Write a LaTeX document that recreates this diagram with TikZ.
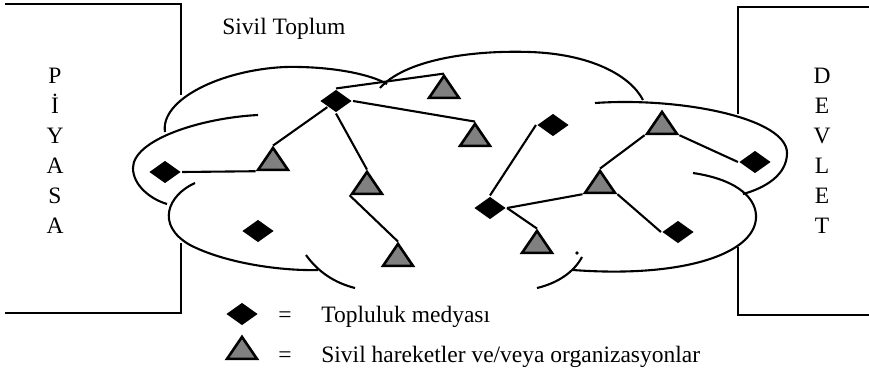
\documentclass[tikz,border=0pt]{standalone}
\usepackage{fontspec}
\setmainfont{Liberation Serif}
\usetikzlibrary{shapes.geometric}

\begin{document}
\begin{tikzpicture}[x=1pt,y=-1pt,line width=2.1pt,
    medya/.style={diamond,fill=black,inner sep=0pt,minimum width=32pt,minimum height=23pt},
    orgut/.style={isosceles triangle,isosceles triangle apex angle=68,isosceles triangle stretches,
      shape border rotate=90,draw,line width=2.6pt,fill=black!50,inner sep=0pt,minimum width=30pt,minimum height=22pt},
    yazi/.style={font=\fontsize{23.5}{30}\selectfont}]
  \useasboundingbox (0,0) rectangle (869,372);
  % kutular
  \draw[line width=2.6pt] (5,4) -- (181,4) -- (181,95);
  \draw[line width=2.6pt] (181,243) -- (181,313) -- (5,313);
  \draw[line width=2.6pt] (869,7) -- (738,7) -- (738,114);
  \draw[line width=2.6pt] (738,247) -- (738,315) -- (869,315);
  \node[yazi,align=center](piyasa)at(55,151){P\\İ\\Y\\A\\S\\A};
  \node[yazi,align=center](devlet)at(822,151){D\\E\\V\\L\\E\\T};
  \node[yazi,anchor=base west](baslik)at(218,34){Sivil Toplum};
  % bulut
  \draw (165,132) .. controls (160,100) and (220,70) .. (285,67) .. controls (330,66) and (370,74) .. (387,84);
  \draw (380,88) .. controls (405,60) and (470,50) .. (530,52) .. controls (590,54) and (630,75) .. (643,100);
  \draw (595,103) .. controls (680,97) and (787,118) .. (787,153) .. controls (787,175) and (765,188) .. (743,194);
  \draw (693,173) .. controls (740,180) and (757,200) .. (756,218) .. controls (754,255) and (680,278) .. (573,270);
  \draw (306,255) .. controls (318,272) and (335,283) .. (355,288);
  \draw (582,257) .. controls (574,272) and (558,283) .. (537,288);
  \draw (258,115) .. controls (200,118) and (133,140) .. (133,168) .. controls (133,185) and (150,199) .. (167,204);
  \draw (195,183) .. controls (168,195) and (155,225) .. (190,245) .. controls (225,263) and (280,271) .. (318,270);
  \fill (577,253) circle (1.8);
  % topluluk medyasi
  \node[medya](m1)at(165,172){};
  \node[medya](m2)at(336,101){};
  \node[medya](m3)at(258,231){};
  \node[medya](m4)at(553,125){};
  \node[medya](m5)at(490,208){};
  \node[medya](m6)at(755,162){};
  \node[medya](m7)at(678,232){};
  % hareketler
  \node[orgut](o1)at(273,162){};
  \node[orgut](o2)at(367,186){};
  \node[orgut](o3)at(398,258){};
  \node[orgut](o4)at(444,90){};
  \node[orgut](o5)at(475,138){};
  \node[orgut](o6)at(662,126){};
  \node[orgut](o7)at(600,185){};
  \node[orgut](o8)at(537,245){};
  \draw(m1.east)--(o1.left corner);
  \draw(o1.apex)--(m2);
  \draw(m2.north)--(o4.apex);
  \draw(m2.east)--(o5.apex);
  \draw(m2.south)--(o2.apex);
  \draw(o2.left corner)--(o3.apex);
  \draw(m4.west)--(m5.north);
  \draw(m5.east)--(o7.left corner);
  \draw(m5.east)--(o8.apex);
  \draw(o7.apex)--(o6.left corner);
  \draw(o6.right corner)--(m6.west);
  \draw(o7.right corner)--(m7.west);
  % aciklama
  \node[medya](l1)at(242,314){};
  \node[orgut](l2)at(242,351){};
  \node[yazi,anchor=base](e1)at(285,322){=};
  \node[yazi,anchor=base](e2)at(285,362){=};
  \node[yazi,anchor=base west](t1)at(317,322){Topluluk medyası};
  \node[yazi,anchor=base west](t2)at(317,362){Sivil hareketler ve/veya organizasyonlar};
\end{tikzpicture}
\end{document}
